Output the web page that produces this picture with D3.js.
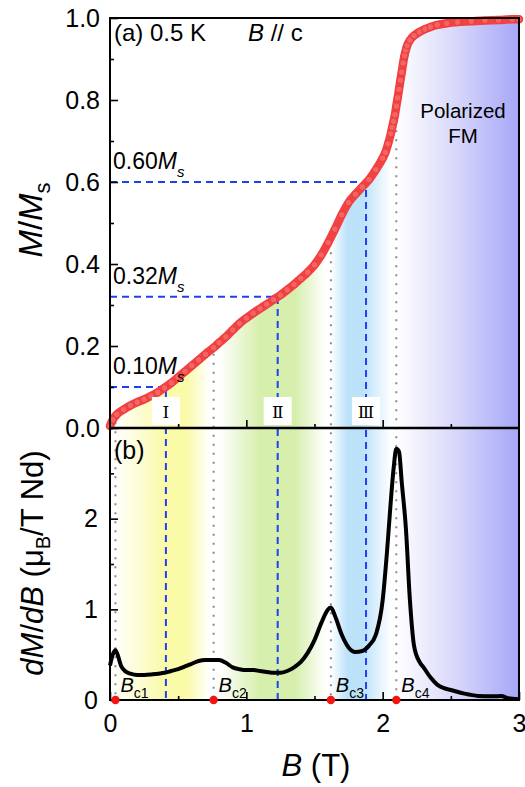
<!DOCTYPE html>
<html>
<head>
<meta charset="utf-8">
<script src="https://cdn.jsdelivr.net/npm/d3@7"></script>
<style>
    body { margin: 0; background: #fff; }
    svg { display: block; font-family: "Liberation Sans", Arial, sans-serif; }
</style>
</head>
<body>
<div class="viz"></div>
<script>
// M/Ms versus field (panel a)
const mField = [0.00, 0.02, 0.05, 0.10, 0.15, 0.20, 0.25, 0.30, 0.35, 0.40, 0.45, 0.50, 0.55, 0.60, 0.65,
    0.70, 0.76, 0.80, 0.85, 0.90, 0.95, 1.00, 1.05, 1.10, 1.15, 1.20, 1.25, 1.30, 1.35, 1.40, 1.45,
    1.50, 1.55, 1.60, 1.65, 1.70, 1.75, 1.80, 1.85, 1.90, 1.95, 2.00, 2.02, 2.04, 2.06, 2.07, 2.08,
    2.09, 2.10, 2.11, 2.12, 2.13, 2.14, 2.15, 2.16, 2.17, 2.18, 2.20, 2.23, 2.27, 2.31, 2.35, 2.40,
    2.47, 2.55, 2.65, 2.75, 2.85, 2.95, 3.00];
const mValue = [0.005, 0.020, 0.033, 0.045, 0.055, 0.063, 0.070, 0.078, 0.087, 0.098, 0.110, 0.124, 0.138, 0.152, 0.166,
    0.180, 0.196, 0.208, 0.222, 0.239, 0.255, 0.268, 0.280, 0.291, 0.302, 0.313, 0.324, 0.337, 0.350, 0.365, 0.380,
    0.398, 0.422, 0.452, 0.485, 0.520, 0.550, 0.570, 0.588, 0.606, 0.630, 0.658, 0.672, 0.693, 0.718, 0.733, 0.748,
    0.764, 0.785, 0.805, 0.826, 0.848, 0.868, 0.890, 0.908, 0.922, 0.933, 0.946, 0.957, 0.966, 0.973, 0.978, 0.983,
    0.987, 0.990, 0.992, 0.994, 0.995, 0.997, 0.997];

// dM/dB versus field (panel b)
const dField = [0.00, 0.02, 0.04, 0.06, 0.08, 0.11, 0.15, 0.20, 0.25, 0.30, 0.35, 0.40, 0.45, 0.50, 0.55,
    0.60, 0.65, 0.70, 0.75, 0.80, 0.85, 0.90, 0.95, 1.00, 1.05, 1.10, 1.15, 1.20, 1.25, 1.30, 1.35,
    1.40, 1.45, 1.50, 1.55, 1.60, 1.62, 1.65, 1.70, 1.75, 1.80, 1.85, 1.90, 1.95, 2.00, 2.03, 2.06,
    2.08, 2.10, 2.12, 2.14, 2.17, 2.20, 2.23, 2.27, 2.30, 2.35, 2.40, 2.45, 2.50, 2.60, 2.70, 2.80,
    2.87, 2.92, 3.00];
const dValue = [0.38, 0.50, 0.55, 0.48, 0.38, 0.32, 0.29, 0.275, 0.275, 0.28, 0.29, 0.30, 0.32, 0.34, 0.37,
    0.40, 0.43, 0.44, 0.44, 0.44, 0.41, 0.36, 0.34, 0.33, 0.33, 0.32, 0.31, 0.30, 0.30, 0.32, 0.36,
    0.42, 0.52, 0.66, 0.85, 1.00, 1.02, 0.93, 0.72, 0.58, 0.53, 0.54, 0.60, 0.72, 1.10, 1.60, 2.20,
    2.55, 2.77, 2.74, 2.40, 1.90, 1.10, 0.60, 0.42, 0.36, 0.25, 0.17, 0.13, 0.11, 0.07, 0.045, 0.04,
    0.045, 0.02, 0.01];

// critical fields and guide lines
const bcField = [0.04, 0.76, 1.62, 2.10];
const bcNames = ["c1", "c2", "c3", "c4"];
const guideM = [0.10, 0.32, 0.60];
const guideB = [0.41, 1.23, 1.878];
const guideText = ["0.10", "0.32", "0.60"];
const regionText = ["\u2160", "\u2161", "\u2162"];

// background shading along B
const shadeB = [0.00, 0.03, 0.40, 0.56, 0.73, 0.80, 1.10, 1.36, 1.58, 1.62, 1.74, 1.86, 2.06, 2.10, 2.55, 3.00];
const shadeColor = ["#ffffff", "#ffffff", "#fafaa8", "#fafaa8", "#ffffff", "#ffffff", "#d6efac", "#d6efac",
    "#ffffff", "#ffffff", "#bce2fa", "#bce2fa", "#ffffff", "#ffffff", "#d6d6fb", "#a6a6f8"];

var W = 525, H = 787,
    left = 110, right = 519,
    topA = 18, split = 428, bottomB = 700;

var svg = d3.select(".viz").append("svg").attr("width", W).attr("height", H);
var defs = svg.append("defs");

var x = d3.scaleLinear().domain([0, 3]).range([left, right]);
var yA = d3.scaleLinear().domain([0, 1]).range([split, topA]);
var yB = d3.scaleLinear().domain([0, 3]).range([bottomB, split]);

var mData = mField.map((b, i) => ({ b: b, v: mValue[i] }));
var dData = dField.map((b, i) => ({ b: b, v: dValue[i] }));

var grad = defs.append("linearGradient")
    .attr("id", "shade")
    .attr("gradientUnits", "userSpaceOnUse")
    .attr("x1", x(0)).attr("x2", x(3))
    .attr("y1", 0).attr("y2", 0);
grad.selectAll("stop")
    .data(shadeB)
    .enter()
    .append("stop")
    .attr("offset", (d) => d / 3)
    .attr("stop-color", (d, i) => shadeColor[i]);

var areaA = d3.area()
    .x((d) => x(d.b))
    .y0(split)
    .y1((d) => yA(d.v))
    .curve(d3.curveMonotoneX);

defs.append("clipPath").attr("id", "under-m")
    .append("path").attr("d", areaA(mData));

// shading: under the curve on top, full height below
svg.append("rect")
    .attr("x", left).attr("y", topA)
    .attr("width", right - left).attr("height", split - topA)
    .attr("fill", "url(#shade)")
    .attr("clip-path", "url(#under-m)");
svg.append("rect")
    .attr("x", left).attr("y", split)
    .attr("width", right - left).attr("height", bottomB - split)
    .attr("fill", "url(#shade)");

// dotted lines at critical fields
var mAt = (b) => {
    let i = d3.bisector((d) => d).left(mField, b);
    if (i <= 0) return mValue[0];
    let t = (b - mField[i - 1]) / (mField[i] - mField[i - 1]);
    return mValue[i - 1] + t * (mValue[i] - mValue[i - 1]);
};
svg.append("g")
    .selectAll("line")
    .data(bcField)
    .enter()
    .append("line")
    .attr("x1", (d) => x(d)).attr("x2", (d) => x(d))
    .attr("y1", (d) => yA(mAt(d)) + 6)
    .attr("y2", bottomB)
    .attr("stroke", "#8a8a8a")
    .attr("stroke-width", 2)
    .attr("stroke-dasharray", "2 7");

// blue dashed guides
var guides = svg.append("g")
    .attr("fill", "none")
    .attr("stroke", "#1f40f0")
    .attr("stroke-width", 2)
    .attr("stroke-dasharray", "7 5");
guideM.forEach((m, i) => {
    guides.append("path")
        .attr("d", `M${left},${yA(m)}H${x(guideB[i])}V${bottomB}`);
});

// M/Ms curve
var lineA = d3.line()
    .x((d) => x(d.b))
    .y((d) => yA(d.v))
    .curve(d3.curveMonotoneX);
svg.append("path")
    .attr("d", lineA(mData))
    .attr("fill", "none")
    .attr("stroke", "#f24242")
    .attr("stroke-width", 8.5)
    .attr("stroke-linecap", "round");
svg.append("g")
    .selectAll("circle")
    .data(mData)
    .enter()
    .append("circle")
    .attr("cx", (d) => x(d.b))
    .attr("cy", (d) => yA(d.v))
    .attr("r", 3.4)
    .attr("fill", "#f56464")
    .attr("stroke", "#ec3a3a")
    .attr("stroke-width", 1);

// dM/dB curve
var lineB = d3.line()
    .x((d) => x(d.b))
    .y((d) => yB(d.v))
    .curve(d3.curveMonotoneX);
svg.append("path")
    .attr("d", lineB(dData))
    .attr("fill", "none")
    .attr("stroke", "#000")
    .attr("stroke-width", 4)
    .attr("stroke-linejoin", "round");

// region boxes
var boxes = svg.append("g")
    .selectAll("g")
    .data(regionText)
    .enter()
    .append("g")
    .attr("transform", (d, i) => `translate(${x(guideB[i])},411)`);
boxes.append("rect")
    .attr("x", -14).attr("y", -14)
    .attr("width", 28).attr("height", 28)
    .attr("fill", "#fff");
boxes.append("text")
    .attr("text-anchor", "middle")
    .attr("y", 6.5)
    .style("font-family", "'DejaVu Serif', serif")
    .style("font-size", "17px")
    .text((d) => d);

// axes with inward ticks
function ticks(g, axis) {
    g.call(axis);
    g.select(".domain").remove();
    g.selectAll(".tick line").attr("stroke", "#000").attr("stroke-width", 1.6);
    g.selectAll("text").style("font-size", "25px").attr("fill", "#000")
        .style("font-family", "'Liberation Sans', Arial, sans-serif");
}
svg.append("g").attr("transform", `translate(${left},0)`)
    .call(ticks, d3.axisLeft(yA).tickValues([0, 0.2, 0.4, 0.6, 0.8, 1.0])
        .tickFormat(d3.format(".1f")).tickSizeInner(-8).tickSizeOuter(0).tickPadding(10));
svg.append("g").attr("transform", `translate(${left},0)`)
    .call(ticks, d3.axisLeft(yA).tickValues([0.1, 0.3, 0.5, 0.7, 0.9])
        .tickFormat("").tickSizeInner(-4).tickSizeOuter(0));
svg.append("g").attr("transform", `translate(${left},0)`)
    .call(ticks, d3.axisLeft(yB).tickValues([0, 1, 2])
        .tickFormat(d3.format("d")).tickSizeInner(-8).tickSizeOuter(0).tickPadding(12));
svg.append("g").attr("transform", `translate(${left},0)`)
    .call(ticks, d3.axisLeft(yB).tickValues([0.5, 1.5, 2.5])
        .tickFormat("").tickSizeInner(-4).tickSizeOuter(0));
svg.append("g").attr("transform", `translate(0,${bottomB})`)
    .call(ticks, d3.axisBottom(x).tickValues([0, 1, 2, 3])
        .tickFormat(d3.format("d")).tickSizeInner(-8).tickSizeOuter(0).tickPadding(14));
svg.append("g").attr("transform", `translate(0,${bottomB})`)
    .call(ticks, d3.axisBottom(x).tickValues([0.5, 1.5, 2.5])
        .tickFormat("").tickSizeInner(-4).tickSizeOuter(0));
svg.append("g").attr("transform", `translate(0,${split})`)
    .call(ticks, d3.axisBottom(x).tickValues([1, 2])
        .tickFormat("").tickSizeInner(-8).tickSizeOuter(0));
svg.append("g").attr("transform", `translate(0,${split})`)
    .call(ticks, d3.axisBottom(x).tickValues([0.5, 1.5, 2.5])
        .tickFormat("").tickSizeInner(-4).tickSizeOuter(0));

// frames
svg.append("rect")
    .attr("x", left).attr("y", topA)
    .attr("width", right - left).attr("height", bottomB - topA)
    .attr("fill", "none").attr("stroke", "#000").attr("stroke-width", 2);
svg.append("line")
    .attr("x1", left).attr("x2", right)
    .attr("y1", split).attr("y2", split)
    .attr("stroke", "#000").attr("stroke-width", 2.4);

// red dots at critical fields
svg.append("g")
    .selectAll("circle")
    .data(bcField)
    .enter()
    .append("circle")
    .attr("cx", (d) => x(d)).attr("cy", bottomB)
    .attr("r", 4.2)
    .attr("fill", "#f41414");

var bcLabels = svg.append("g")
    .selectAll("text")
    .data(bcField)
    .enter()
    .append("text")
    .attr("x", (d) => x(d) + 5)
    .attr("y", 692)
    .style("font-size", "20px");
bcLabels.append("tspan").style("font-style", "italic").text("B");
bcLabels.append("tspan").attr("dy", 6).style("font-size", "14px").text((d, i) => bcNames[i]);

// guide labels
var gl = svg.append("g")
    .selectAll("text")
    .data(guideM)
    .enter()
    .append("text")
    .attr("x", 113)
    .attr("y", (d) => yA(d) - 13)
    .style("font-size", "23px");
gl.append("tspan").text((d, i) => guideText[i]);
gl.append("tspan").style("font-style", "italic").text("M");
gl.append("tspan").attr("dy", 8).style("font-style", "italic").style("font-size", "15px").text("s");

// panel texts
var ta = svg.append("text").attr("x", 114).attr("y", 41).style("font-size", "24px");
ta.append("tspan").text("(a) 0.5 K");
ta.append("tspan").attr("x", 248).style("font-style", "italic").text("B");
ta.append("tspan").text(" // c");

svg.append("text").attr("x", 114).attr("y", 459).style("font-size", "25px").text("(b)");

svg.append("text").attr("x", 463).attr("y", 118)
    .attr("text-anchor", "middle").style("font-size", "20.5px").text("Polarized");
svg.append("text").attr("x", 463).attr("y", 143)
    .attr("text-anchor", "middle").style("font-size", "20.5px").text("FM");

// axis titles
var yt = svg.append("text")
    .attr("transform", "translate(42,220) rotate(-90)")
    .attr("text-anchor", "middle")
    .style("font-size", "33px");
yt.append("tspan").style("font-style", "italic").text("M");
yt.append("tspan").text("/");
yt.append("tspan").style("font-style", "italic").text("M");
yt.append("tspan").attr("dy", 8).style("font-size", "22px").text("s");

var yt2 = svg.append("text")
    .attr("transform", "translate(43,563) rotate(-90)")
    .attr("text-anchor", "middle")
    .style("font-size", "31px");
yt2.append("tspan").style("font-style", "italic").text("dM");
yt2.append("tspan").text("/");
yt2.append("tspan").style("font-style", "italic").text("dB");
yt2.append("tspan").text(" (\u03bc");
yt2.append("tspan").attr("dy", 7).style("font-size", "20px").text("B");
yt2.append("tspan").attr("dy", -7).text("/T Nd)");

var xt = svg.append("text")
    .attr("x", 316).attr("y", 776)
    .attr("text-anchor", "middle")
    .style("font-size", "31px");
xt.append("tspan").style("font-style", "italic").text("B");
xt.append("tspan").text(" (T)");
</script>
</body>
</html>
